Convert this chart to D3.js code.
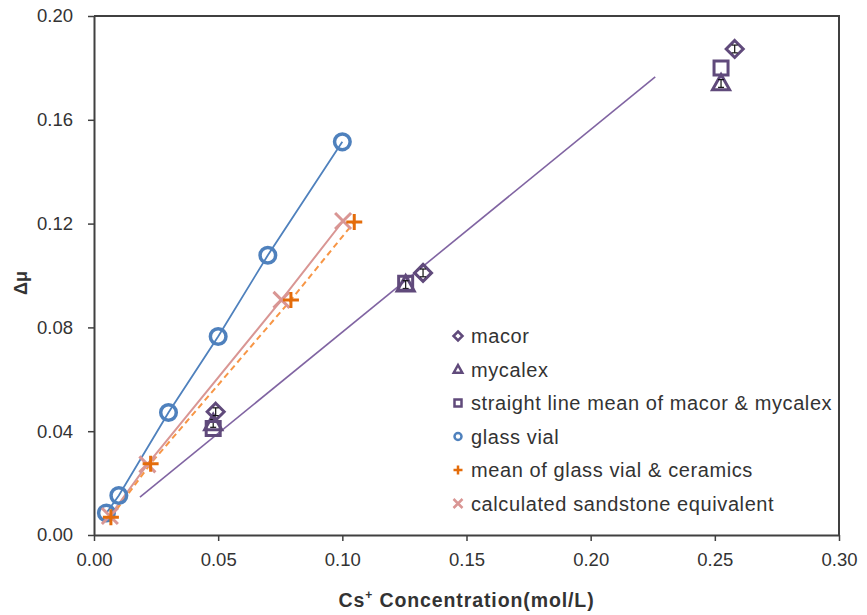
<!DOCTYPE html>
<html>
<head>
<meta charset="utf-8">
<script src="https://cdn.jsdelivr.net/npm/d3@7"></script>
<style>
  body { margin: 0; background: #fff; }
  svg { font-family: "Liberation Sans", Arial, sans-serif; }
</style>
</head>
<body>
<div id="chart"></div>
<script>
// data
const glassX = [0.005, 0.010, 0.030, 0.050, 0.070, 0.100];
const glassY = [0.0085, 0.0152, 0.0472, 0.0765, 0.1078, 0.1515];

const sandX = [0.0064, 0.0215, 0.0755, 0.1003];
const sandY = [0.0073, 0.0272, 0.0906, 0.1210];

const meanX = [0.0068, 0.0228, 0.0793, 0.1048];
const meanY = [0.0068, 0.0275, 0.0906, 0.1206];

const macorX = [0.049, 0.1325, 0.258];
const macorY = [0.0475, 0.1010, 0.1873];
const mycalexX = [0.048, 0.1255, 0.2525];
const mycalexY = [0.0430, 0.0965, 0.1740];
const squareX = [0.048, 0.1255, 0.2525];
const squareY = [0.0410, 0.0970, 0.1800];
const errBar = 0.0015;

// straight line (trend) end points
const trendX = [0.0185, 0.226];
const trendY = [0.0146, 0.1765];

const xTicks = [0, 0.05, 0.10, 0.15, 0.20, 0.25, 0.30];
const yTicks = [0, 0.04, 0.08, 0.12, 0.16, 0.20];

const legendNames = ["macor", "mycalex", "straight line mean of macor & mycalex",
  "glass vial", "mean of glass vial & ceramics", "calculated sandstone equivalent"];

let width = 867, height = 615;
let margin = { left: 94, top: 16, right: 28, bottom: 80 };

const purple = "#604a7b";
const blue = "#4f81bd";
const orange = "#e46c0a";
const pink = "#d99694";
const axisColor = "#404040";

let svg = d3.select("#chart").append("svg")
  .attr("width", width)
  .attr("height", height);

const x = d3.scaleLinear().domain([0, 0.30]).range([margin.left, width - margin.right]);
const y = d3.scaleLinear().domain([0, 0.20]).range([height - margin.bottom, margin.top]);

const zip = (xs, ys) => xs.map((v, i) => ({ x: v, y: ys[i] }));

// axes
const xAxis = svg.append("g")
  .attr("transform", `translate(0,${y(0)})`)
  .call(d3.axisBottom(x).tickValues(xTicks).tickFormat(d3.format(".2f")).tickSize(6).tickSizeOuter(0));
const yAxis = svg.append("g")
  .attr("transform", `translate(${x(0)},0)`)
  .call(d3.axisLeft(y).tickValues(yTicks).tickFormat(d3.format(".2f")).tickSize(6).tickSizeOuter(0));

[xAxis, yAxis].forEach(g => {
  g.select(".domain").attr("stroke", axisColor).attr("stroke-width", 2);
  g.selectAll(".tick line").attr("stroke", axisColor).attr("stroke-width", 1.5);
  g.selectAll(".tick text")
    .attr("fill", "#333")
    .attr("font-size", "18.5px")
    .attr("font-family", "Liberation Sans, Arial, sans-serif");
});
xAxis.selectAll(".tick text").attr("dy", "1.2em");
yAxis.selectAll(".tick text").attr("x", -21);

// top and right border
svg.append("path")
  .attr("d", `M${x(0)},${y(0.2)}H${x(0.3)}V${y(0)}`)
  .attr("fill", "none")
  .attr("stroke", axisColor)
  .attr("stroke-width", 2);

// axis titles
const xt = svg.append("text")
  .attr("x", (x(0) + x(0.3)) / 2)
  .attr("y", 607)
  .attr("text-anchor", "middle")
  .attr("font-weight", "bold")
  .attr("font-size", "19.5px")
  .attr("letter-spacing", "0.9px")
  .attr("fill", "#333");
xt.append("tspan").text("Cs");
xt.append("tspan").text("+").attr("font-size", "12px").attr("dy", -8);
xt.append("tspan").text(" Concentration(mol/L)").attr("dy", 8);

svg.append("text")
  .attr("transform", `translate(27,283) rotate(-90)`)
  .attr("text-anchor", "middle")
  .attr("font-weight", "bold")
  .attr("font-size", "18px")
  .attr("fill", "#333")
  .text("Δμ");

let line = d3.line().x(d => x(d.x)).y(d => y(d.y));

// lines
svg.append("path")
  .datum(zip(trendX, trendY))
  .attr("d", line)
  .attr("fill", "none")
  .attr("stroke", "#8064a2")
  .attr("stroke-width", 1.6);

svg.append("path")
  .datum(zip(glassX, glassY))
  .attr("d", line)
  .attr("fill", "none")
  .attr("stroke", blue)
  .attr("stroke-width", 1.8);

svg.append("path")
  .datum(zip(sandX, sandY))
  .attr("d", line)
  .attr("fill", "none")
  .attr("stroke", pink)
  .attr("stroke-width", 2);

svg.append("path")
  .datum(zip(meanX, meanY))
  .attr("d", line)
  .attr("fill", "none")
  .attr("stroke", "#f79646")
  .attr("stroke-width", 2)
  .attr("stroke-dasharray", "6,4");

// marker shapes
function markerPath(type, s) {
  if (type == "diamond") return `M0,${-s}L${s},0L0,${s}L${-s},0Z`;
  if (type == "triangle") return `M0,${-s}L${s * 0.95},${s * 0.7}L${-s * 0.95},${s * 0.7}Z`;
  if (type == "square") return `M${-s},${-s}H${s}V${s}H${-s}Z`;
  if (type == "plus") return `M${-s},0H${s}M0,${-s}V${s}`;
  if (type == "cross") return `M${-s},${-s}L${s},${s}M${-s},${s}L${s},${-s}`;
  return "";
}

function drawMarkers(data, type, color, s, sw) {
  svg.append("g").selectAll("path")
    .data(data)
    .join("path")
    .attr("transform", d => `translate(${x(d.x)},${y(d.y)})`)
    .attr("d", markerPath(type, s))
    .attr("fill", "none")
    .attr("stroke", color)
    .attr("stroke-width", sw);
}

function drawErrors(data) {
  const g = svg.append("g").attr("stroke", "#111").attr("stroke-width", 1.2);
  data.forEach(d => {
    const cx = x(d.x), y1 = y(d.y - errBar), y2 = y(d.y + errBar);
    g.append("line").attr("x1", cx).attr("x2", cx).attr("y1", y1).attr("y2", y2);
    g.append("line").attr("x1", cx - 3).attr("x2", cx + 3).attr("y1", y1).attr("y2", y1);
    g.append("line").attr("x1", cx - 3).attr("x2", cx + 3).attr("y1", y2).attr("y2", y2);
  });
}

drawMarkers(zip(mycalexX, mycalexY), "triangle", purple, 9, 3);
drawErrors(zip(mycalexX, mycalexY));
drawMarkers(zip(squareX, squareY), "square", purple, 7, 3);
drawMarkers(zip(macorX, macorY), "diamond", purple, 8.5, 3);
drawErrors(zip(macorX, macorY));
svg.append("g").selectAll("circle")
  .data(zip(glassX, glassY))
  .join("circle")
  .attr("cx", d => x(d.x))
  .attr("cy", d => y(d.y))
  .attr("r", 7.8)
  .attr("fill", "none")
  .attr("stroke", blue)
  .attr("stroke-width", 3.5);
drawMarkers(zip(sandX, sandY), "cross", pink, 8, 3);
drawMarkers(zip(meanX, meanY), "plus", orange, 8, 3);

// legend
const legendTypes = ["diamond", "triangle", "square", "circle", "plus", "cross"];
const legendColors = [purple, purple, purple, blue, orange, pink];
const legend = svg.append("g");
legendNames.forEach((name, i) => {
  const ly = 336 + i * 33.5;
  if (legendTypes[i] == "circle") {
    legend.append("circle").attr("cx", 458).attr("cy", ly).attr("r", 3.5)
      .attr("fill", "none").attr("stroke", legendColors[i]).attr("stroke-width", 2.5);
  } else {
    legend.append("path")
      .attr("transform", `translate(458,${ly})`)
      .attr("d", markerPath(legendTypes[i], legendTypes[i] == "square" ? 3.5 : 4.5))
      .attr("fill", "none")
      .attr("stroke", legendColors[i])
      .attr("stroke-width", 2.5);
  }
  legend.append("text")
    .attr("x", 471)
    .attr("y", ly)
    .attr("dy", "0.35em")
    .attr("font-size", "20px")
    .attr("letter-spacing", "0.6px")
    .attr("fill", "#333")
    .text(name);
});
</script>
</body>
</html>
